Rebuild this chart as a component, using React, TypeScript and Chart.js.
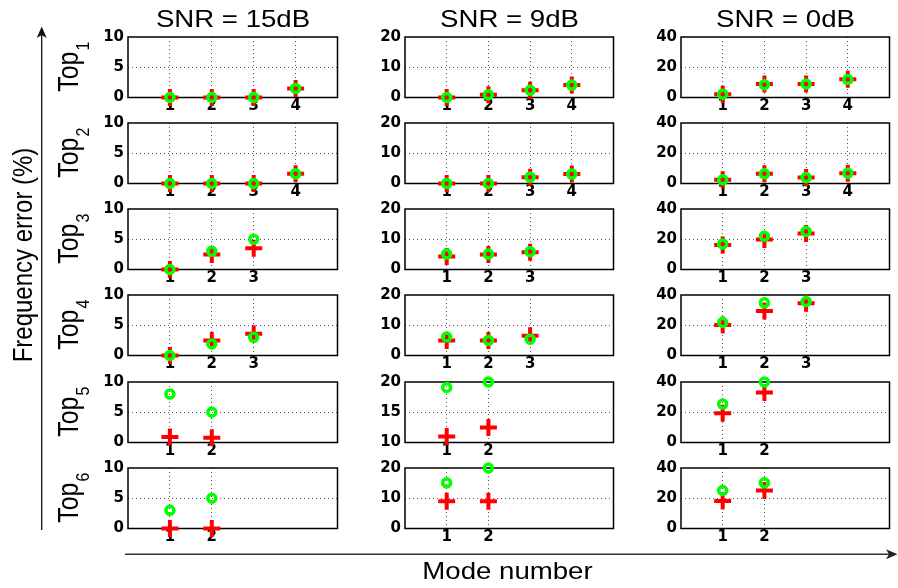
import React, { useEffect, useRef } from 'react';
import { Chart, registerables } from 'chart.js';

Chart.register(...registerables);

// ---------- data ----------
const snrTitles = ['SNR = 15dB', 'SNR = 9dB', 'SNR = 0dB'];
const topSubscripts = ['1', '2', '3', '4', '5', '6'];
const modeCounts = [4, 4, 3, 3, 2, 2];

// green circles (one row per Top_k)
const circle15 = [[0, 0, 0, 1.5], [0, 0, 0, 1.6], [0, 3.0, 5.0], [0, 1.9, 3.0], [8.0, 5.0], [3.0, 5.0]];
const circle9 = [[0, 0.9, 2.4, 4.1], [0, 0, 2.1, 3.1], [5.1, 5.1, 5.9], [6.1, 5.0, 5.4], [19.1, 20.0], [15.1, 20.0]];
const circle0 = [[2.2, 8.4, 8.9, 11.9], [2.4, 6.4, 3.9, 6.8], [16.9, 22.0, 25.1], [21.8, 34.8, 35.7], [25.4, 40.0], [25.1, 30.2]];

// red plus markers
const plus15 = [[0, 0, 0, 1.5], [0, 0, 0, 1.6], [0, 2.5, 3.5], [0, 2.5, 3.6], [0.9, 0.8], [0, 0]];
const plus9 = [[0, 0.9, 2.4, 4.1], [0, 0, 2.1, 3.1], [4.3, 5.0, 5.7], [5.0, 5.0, 6.5], [11.0, 12.5], [9.0, 9.0]];
const plus0 = [[2.2, 9.0, 9.0, 12.0], [2.4, 6.4, 3.9, 6.8], [16.2, 19.9, 23.8], [20.1, 29.4, 34.6], [19.3, 33.0], [18.1, 25.1]];

// y-axis ranges per row
const yMin15 = [0, 0, 0, 0, 0, 0];
const yMax15 = [10, 10, 10, 10, 10, 10];
const yStep15 = [5, 5, 5, 5, 5, 5];
const yMin9 = [0, 0, 0, 0, 10, 0];
const yMax9 = [20, 20, 20, 20, 20, 20];
const yStep9 = [10, 10, 10, 10, 5, 10];
const yMin0 = [0, 0, 0, 0, 0, 0];
const yMax0 = [40, 40, 40, 40, 40, 40];
const yStep0 = [20, 20, 20, 20, 20, 20];

const xMin = 0;
const xMax = 5;

const circlesByCol = [circle15, circle9, circle0];
const plusByCol = [plus15, plus9, plus0];
const yMinByCol = [yMin15, yMin9, yMin0];
const yMaxByCol = [yMax15, yMax9, yMax0];
const yStepByCol = [yStep15, yStep9, yStep0];

// ---------- layout ----------
const W = 898;
const H = 588;
const COL_LEFT = [128, 405, 681];
const COL_W = [210, 209, 209];
const ROW_TOP = [36, 122, 208, 294, 381, 467];
const PLOT_H = 61.5;
const PAD_L = 46;
const PAD_T = 12;
const PAD_R = 12;
const PAD_B = 22.5;

const TICK_FONT = { family: '"DejaVu Sans", sans-serif', weight: 'bold' as const, size: 15 };
const GRID_COLOR = '#555';

const boxPlugin = {
  id: 'axesBox',
  beforeDatasetsDraw(chart: any) {
    const { ctx, chartArea: a } = chart;
    ctx.save();
    ctx.strokeStyle = '#000';
    ctx.lineWidth = 1.5;
    ctx.strokeRect(a.left, a.top, a.right - a.left, a.bottom - a.top);
    ctx.restore();
  },
};

function Cell({ r, c }: { r: number; c: number }) {
  const ref = useRef<HTMLCanvasElement>(null);
  const cw = PAD_L + COL_W[c] + PAD_R;
  const ch = PAD_T + PLOT_H + PAD_B;
  useEffect(() => {
    const canvas = ref.current;
    if (!canvas) return;
    const circles = circlesByCol[c][r];
    const pluses = plusByCol[c][r];
    const yMin = yMinByCol[c][r];
    const yMax = yMaxByCol[c][r];
    const yStep = yStepByCol[c][r];
    const n = modeCounts[r];
    const gridColor = (ctx: any) => {
      const v = ctx.tick ? ctx.tick.value : null;
      return v === yMin || v === yMax ? 'rgba(0,0,0,0)' : GRID_COLOR;
    };
    const chart = new Chart(canvas, {
      type: 'scatter',
      data: {
        datasets: [
          {
            data: circles.map((v, i) => ({ x: i + 1, y: v })),
            pointStyle: 'circle',
            pointRadius: 4,
            pointHoverRadius: 4,
            pointBorderWidth: 3.5,
            pointBorderColor: '#00ff00',
            pointBackgroundColor: 'rgba(0,0,0,0)',
            clip: false,
            order: 0,
          } as any,
          {
            data: pluses.map((v, i) => ({ x: i + 1, y: v })),
            pointStyle: 'cross',
            pointRadius: 8.5,
            pointHoverRadius: 8.5,
            pointBorderWidth: 4,
            pointBorderColor: '#ff0000',
            pointBackgroundColor: '#ff0000',
            clip: false,
            order: 1,
          } as any,
        ],
      },
      options: {
        responsive: false,
        maintainAspectRatio: false,
        animation: false,
        events: [],
        layout: { padding: { top: PAD_T, right: PAD_R, left: 0, bottom: 0 } },
        plugins: { legend: { display: false }, tooltip: { enabled: false }, title: { display: false } },
        scales: {
          x: {
            type: 'linear',
            min: xMin,
            max: xMax,
            afterBuildTicks: (s: any) => {
              const t = [];
              for (let i = 1; i <= n; i++) t.push({ value: i });
              s.ticks = t;
            },
            afterFit: (s: any) => {
              s.height = PAD_B;
            },
            grid: { color: GRID_COLOR, lineWidth: 1, drawTicks: false },
            border: { display: false, dash: [1, 3] },
            ticks: { padding: 0, color: '#000', font: TICK_FONT, maxRotation: 0, autoSkip: false },
          },
          y: {
            type: 'linear',
            min: yMin,
            max: yMax,
            afterFit: (s: any) => {
              s.width = PAD_L;
            },
            grid: { color: gridColor, lineWidth: 1, drawTicks: false },
            border: { display: false, dash: [1, 3] },
            ticks: { stepSize: yStep, padding: 4, color: '#000', font: TICK_FONT },
          },
        },
      } as any,
      plugins: [boxPlugin],
    });
    return () => chart.destroy();
  }, [r, c]);
  return (
    <canvas
      ref={ref}
      width={cw}
      height={ch}
      style={{ position: 'absolute', left: COL_LEFT[c] - PAD_L, top: ROW_TOP[r] - PAD_T, width: cw, height: ch }}
    />
  );
}

const LS = '"Liberation Sans", Arial, sans-serif';

const overlayPlugin = {
  id: 'overlayText',
  afterDraw(chart: any) {
    const ctx = chart.ctx as CanvasRenderingContext2D;
    ctx.save();
    ctx.fillStyle = '#000';
    // column titles
    snrTitles.forEach((t, c) => {
      ctx.save();
      ctx.translate(COL_LEFT[c] + COL_W[c] / 2, 27);
      ctx.scale(1.15, 1);
      ctx.font = `24px ${LS}`;
      ctx.textAlign = 'center';
      ctx.textBaseline = 'alphabetic';
      ctx.fillText(t, 0, 0);
      ctx.restore();
    });
    // Top_k labels
    topSubscripts.forEach((k, r) => {
      const cy = ROW_TOP[r] + PLOT_H / 2;
      ctx.save();
      ctx.translate(77.5, cy);
      ctx.rotate(-Math.PI / 2);
      ctx.scale(1, 1.15);
      ctx.textAlign = 'left';
      ctx.textBaseline = 'alphabetic';
      ctx.font = `25px ${LS}`;
      const w1 = ctx.measureText('Top').width;
      ctx.font = `16px ${LS}`;
      const w2 = ctx.measureText(k).width;
      const total = w1 + 1 + w2;
      ctx.font = `25px ${LS}`;
      ctx.fillText('Top', -total / 2, 0);
      ctx.font = `16px ${LS}`;
      ctx.fillText(k, -total / 2 + w1 + 1, 10);
      ctx.restore();
    });
    // y axis label
    ctx.save();
    ctx.translate(32, 255);
    ctx.rotate(-Math.PI / 2);
    ctx.scale(1, 1.15);
    ctx.font = `24px ${LS}`;
    ctx.textAlign = 'center';
    ctx.textBaseline = 'alphabetic';
    ctx.fillText('Frequency error (%)', 0, 0);
    ctx.restore();
    // x axis label
    ctx.save();
    ctx.translate(507.5, 579);
    ctx.scale(1.15, 1);
    ctx.font = `24px ${LS}`;
    ctx.textAlign = 'center';
    ctx.textBaseline = 'alphabetic';
    ctx.fillText('Mode number', 0, 0);
    ctx.restore();

    // vertical arrow
    const vx = 41.7;
    ctx.strokeStyle = '#111';
    ctx.lineWidth = 1.3;
    ctx.beginPath();
    ctx.moveTo(vx, 530);
    ctx.lineTo(vx, 33);
    ctx.stroke();
    ctx.fillStyle = '#111';
    ctx.beginPath();
    ctx.moveTo(vx, 26.5);
    ctx.lineTo(vx - 5, 38);
    ctx.lineTo(vx, 35);
    ctx.lineTo(vx + 5, 38);
    ctx.closePath();
    ctx.fill();

    // horizontal arrow
    const hy = 554.3;
    ctx.strokeStyle = '#333';
    ctx.lineWidth = 1.6;
    ctx.beginPath();
    ctx.moveTo(125, hy);
    ctx.lineTo(891, hy);
    ctx.stroke();
    ctx.fillStyle = '#222';
    ctx.beginPath();
    ctx.moveTo(897.5, hy);
    ctx.lineTo(886, hy - 5);
    ctx.lineTo(889, hy);
    ctx.lineTo(886, hy + 5);
    ctx.closePath();
    ctx.fill();
    ctx.restore();
  },
};

function Overlay() {
  const ref = useRef<HTMLCanvasElement>(null);
  useEffect(() => {
    const canvas = ref.current;
    if (!canvas) return;
    const chart = new Chart(canvas, {
      type: 'scatter',
      data: { datasets: [] },
      options: {
        responsive: false,
        maintainAspectRatio: false,
        animation: false,
        events: [],
        layout: { padding: 0 },
        plugins: { legend: { display: false }, tooltip: { enabled: false } },
        scales: { x: { display: false }, y: { display: false } },
      } as any,
      plugins: [overlayPlugin],
    });
    return () => chart.destroy();
  }, []);
  return <canvas ref={ref} width={W} height={H} style={{ position: 'absolute', left: 0, top: 0, width: W, height: H }} />;
}

export default function App() {
  const cells = [];
  for (let r = 0; r < 6; r++) {
    for (let c = 0; c < 3; c++) {
      cells.push(<Cell key={`${r}-${c}`} r={r} c={c} />);
    }
  }
  return (
    <div style={{ position: 'fixed', left: 0, top: 0, width: W, height: H, background: '#fff', overflow: 'hidden' }}>
      <Overlay />
      {cells}
    </div>
  );
}
